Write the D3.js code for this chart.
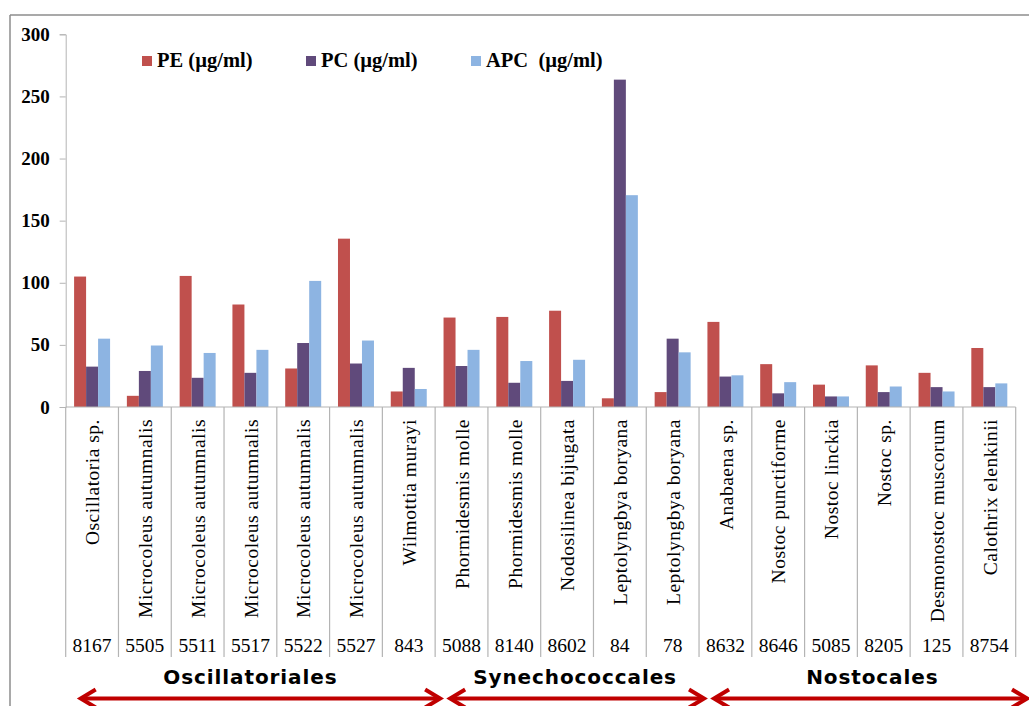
<!DOCTYPE html>
<html>
<head>
<meta charset="utf-8">
<script src="https://cdn.jsdelivr.net/npm/d3@7"></script>
<style>
  html, body { margin: 0; padding: 0; background: #fff; }
  svg { display: block; }
</style>
</head>
<body>
<svg id="chart" width="1029" height="706"></svg>
<script>
// ---- data ----
const species = ["Oscillatoria sp.", "Microcoleus autumnalis", "Microcoleus autumnalis", "Microcoleus autumnalis",
  "Microcoleus autumnalis", "Microcoleus autumnalis", "Wilmottia murayi", "Phormidesmis molle", "Phormidesmis molle",
  "Nodosilinea bijugata", "Leptolyngbya boryana", "Leptolyngbya boryana", "Anabaena sp.", "Nostoc punctiforme",
  "Nostoc linckia", "Nostoc sp.", "Desmonostoc muscorum", "Calothrix elenkinii"];
const strainIds = ["8167", "5505", "5511", "5517", "5522", "5527", "843", "5088", "8140", "8602", "84", "78",
  "8632", "8646", "5085", "8205", "125", "8754"];
const PE  = [105, 9, 105.5, 82.5, 31, 135.5, 12.5, 72, 72.5, 77.5, 7, 12, 68.5, 34.5, 18, 33.5, 27.5, 47.5];
const PC  = [32.5, 29, 23.5, 27.5, 51.5, 35, 31.5, 33, 19.5, 21, 263.5, 55, 24.5, 11, 8.5, 12, 16, 16];
const APC = [55, 49.5, 43.5, 46, 101.5, 53.5, 14.5, 46, 37, 38, 170.5, 44, 25.5, 20, 8.5, 16.5, 12.5, 19];
const seriesNames = ["PE (µg/ml)", "PC (µg/ml)", "APC  (µg/ml)"];
const seriesColors = ["#C0504D", "#604A7B", "#8DB4E2"];
const yTicks = [0, 50, 100, 150, 200, 250, 300];
const orders = ["Oscillatoriales", "Synechococcales", "Nostocales"];
const orderFirst = [0, 7, 12];
const orderLast = [6, 11, 17];

(function () {
// ---- layout ----
const svg = d3.select("#chart");
const pL = 65.7, pR = 1015.7, pT = 34.3, pB = 407;
const idx = d3.range(species.length);
const seriesData = [PE, PC, APC];

const x = d3.scaleBand().domain(idx).range([pL, pR]).paddingInner(0).paddingOuter(0);
const x1 = d3.scaleBand().domain([0, 1, 2]).range([0, x.bandwidth()]).paddingInner(0).paddingOuter(0.7);
const y = d3.scaleLinear().domain([0, 300]).range([pB, pT]);

// outer frame (partial, as in reference)
svg.append("line").attr("x1", 10).attr("x2", 1029).attr("y1", 15).attr("y2", 15)
  .attr("stroke", "#8c8c8c").attr("stroke-width", 1.5);
svg.append("line").attr("x1", 10).attr("x2", 10).attr("y1", 15).attr("y2", 706)
  .attr("stroke", "#8c8c8c").attr("stroke-width", 1.5);

// y axis
const yAxis = d3.axisLeft(y).tickValues(yTicks).tickSize(6).tickPadding(10).tickFormat(d3.format("d"));
const ya = svg.append("g").attr("transform", `translate(${pL},0)`).call(yAxis);
ya.select(".domain").attr("stroke", "#b4b4b4");
ya.selectAll(".tick line").attr("stroke", "#b4b4b4");
ya.selectAll(".tick text")
  .attr("font-family", "'Liberation Serif', 'Times New Roman', serif")
  .attr("font-weight", "bold").attr("font-size", "19px").attr("fill", "#000");

// bars
const groups = svg.append("g").selectAll("g").data(idx).join("g")
  .attr("transform", d => `translate(${x(d)},0)`);
groups.selectAll("rect").data(i => seriesData.map((s, k) => ({k, v: s[i]}))).join("rect")
  .attr("x", d => x1(d.k))
  .attr("width", x1.bandwidth())
  .attr("y", d => y(d.v))
  .attr("height", d => y(0) - y(d.v))
  .attr("fill", d => seriesColors[d.k]);

// category axis line and dividers
svg.append("line").attr("x1", pL).attr("x2", pR).attr("y1", pB).attr("y2", pB)
  .attr("stroke", "#b4b4b4").attr("stroke-width", 1.2);
const bounds = idx.map(i => x(i)).concat([pR]);
svg.append("g").selectAll("line").data(bounds).join("line")
  .attr("x1", d => d).attr("x2", d => d).attr("y1", pB).attr("y2", 657)
  .attr("stroke", "#b4b4b4").attr("stroke-width", 1.2);

// species labels (rotated)
svg.append("g").selectAll("text").data(idx).join("text")
  .attr("transform", i => `translate(${x(i) + x.bandwidth() / 2},419) rotate(-90)`)
  .attr("text-anchor", "end").attr("dy", "0.37em")
  .attr("font-family", "'Liberation Serif', 'Times New Roman', serif")
  .attr("font-size", "19.5px").attr("letter-spacing", "0.5px").attr("fill", "#000")
  .text(i => species[i]);

// strain ids
svg.append("g").selectAll("text").data(idx).join("text")
  .attr("x", i => x(i) + x.bandwidth() / 2).attr("y", 652)
  .attr("text-anchor", "middle")
  .attr("font-family", "'Liberation Serif', 'Times New Roman', serif")
  .attr("font-size", "19.5px").attr("fill", "#000")
  .text(i => strainIds[i]);

// orders: labels and double arrows
const arrowY = 698.5, red = "#C00000";
const labelShift = [0, 8, 15];
orders.forEach((name, k) => {
  const x0 = x(orderFirst[k]) + 15;
  const xEnd = k === orders.length - 1 ? 1027 : x(orderLast[k]) + x.bandwidth() + 5;
  const spanMid = (x(orderFirst[k]) + x(orderLast[k]) + x.bandwidth()) / 2;
  const g = svg.append("g");
  g.append("line").attr("x1", x0 + 2).attr("x2", xEnd - 2).attr("y1", arrowY).attr("y2", arrowY)
    .attr("stroke", red).attr("stroke-width", 4);
  g.append("path").attr("d", `M${x0 + 15},${arrowY - 9}L${x0},${arrowY}L${x0 + 15},${arrowY + 9}`)
    .attr("fill", "none").attr("stroke", red).attr("stroke-width", 4).attr("stroke-linejoin", "miter");
  g.append("path").attr("d", `M${xEnd - 15},${arrowY - 9}L${xEnd},${arrowY}L${xEnd - 15},${arrowY + 9}`)
    .attr("fill", "none").attr("stroke", red).attr("stroke-width", 4).attr("stroke-linejoin", "miter");
  g.append("text").attr("x", spanMid + labelShift[k]).attr("y", 684)
    .attr("text-anchor", "middle")
    .attr("font-family", "'DejaVu Sans', Verdana, sans-serif").attr("font-weight", "bold")
    .attr("font-size", "20px").attr("letter-spacing", "0.9px").attr("fill", "#000").text(name);
});

// legend
const legendX = [142, 306, 471];
const lg = svg.append("g").selectAll("g").data(seriesNames).join("g")
  .attr("transform", (d, i) => `translate(${legendX[i]},55)`);
lg.append("rect").attr("width", 10).attr("height", 10).attr("y", 1)
  .attr("fill", (d, i) => seriesColors[i]);
lg.append("text").attr("x", 15).attr("y", 11.5)
  .attr("font-family", "'Liberation Serif', 'Times New Roman', serif")
  .attr("font-weight", "bold").attr("font-size", "20.5px").attr("fill", "#000")
  .attr("xml:space", "preserve").style("white-space", "pre")
  .text(d => d);
})();
</script>
</body>
</html>
